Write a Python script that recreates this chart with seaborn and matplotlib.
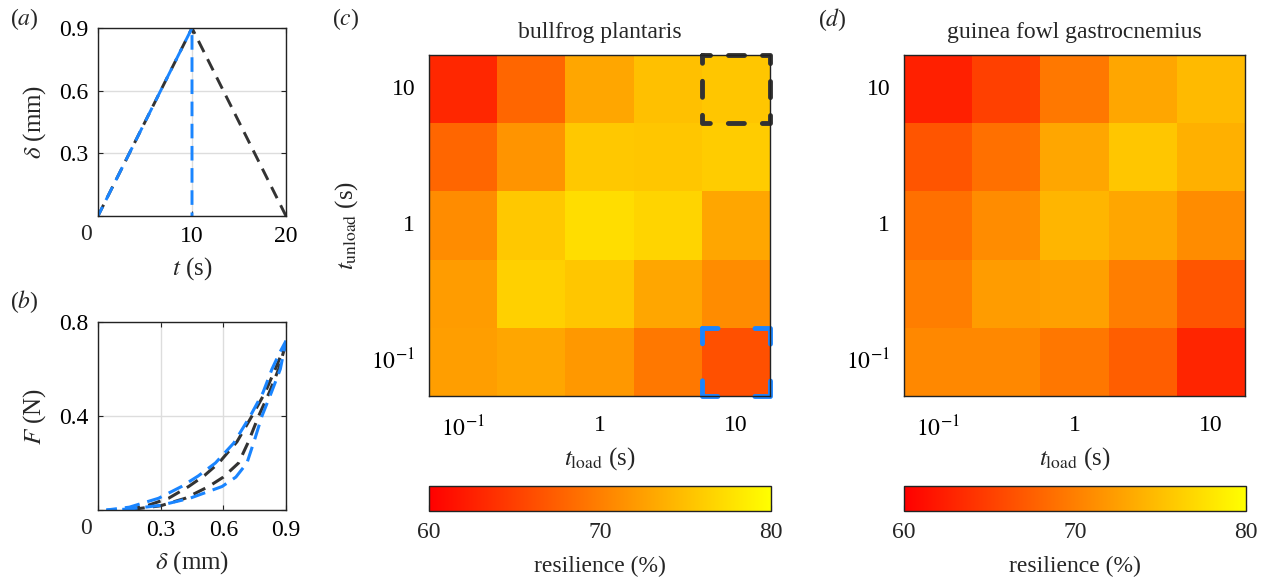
import numpy as np
import pandas as pd
import matplotlib
matplotlib.use("Agg")
import matplotlib.pyplot as plt
import seaborn as sns
from matplotlib.patches import Rectangle

sns.set_style("ticks")
plt.rcParams['font.family'] = ['Liberation Serif', 'DejaVu Serif']
plt.rcParams['mathtext.fontset'] = 'stix'
plt.rcParams['font.size'] = 17

# panel (a): displacement protocol
t_ramp = [0, 10, 20]
d_ramp = [0, 0.9, 0]
t_fast = [0, 10, 10]
d_fast = [0, 0.9, 0]

# panel (b): force-displacement loops (loading branch, unloading branch)
bk_load_d = [0.14, 0.24, 0.338, 0.434, 0.51, 0.578, 0.665, 0.737, 0.80, 0.849, 0.9]
bk_load_f = [0.0, 0.02, 0.05, 0.10, 0.147, 0.20, 0.29, 0.40, 0.50, 0.60, 0.71]
bk_unl_d = [0.9, 0.865, 0.82, 0.769, 0.72, 0.673, 0.60, 0.53, 0.418, 0.30, 0.14]
bk_unl_f = [0.71, 0.60, 0.50, 0.40, 0.29, 0.20, 0.14, 0.10, 0.05, 0.018, 0.0]
bl_load_d = [0.04, 0.15, 0.29, 0.40, 0.48, 0.562, 0.65, 0.729, 0.79, 0.833, 0.87, 0.9]
bl_load_f = [0.0, 0.012, 0.05, 0.10, 0.145, 0.20, 0.285, 0.40, 0.50, 0.60, 0.67, 0.72]
bl_unl_d = [0.9, 0.873, 0.83, 0.785, 0.75, 0.713, 0.66, 0.594, 0.44, 0.30, 0.15, 0.04]
bl_unl_f = [0.72, 0.60, 0.50, 0.40, 0.30, 0.20, 0.14, 0.10, 0.05, 0.02, 0.004, 0.0]

# panels (c), (d): resilience grids, rows t_unload = 10 ... 0.1, cols t_load = 0.1 ... 10
t_load = ["0.1", "0.316", "1", "3.16", "10"]
t_unload = ["10", "3.16", "1", "0.316", "0.1"]
bullfrog = [
    [63.1, 68.0, 73.0, 75.0, 75.5],
    [68.0, 71.6, 75.7, 75.5, 76.0],
    [71.0, 75.7, 77.3, 76.6, 73.0],
    [72.2, 76.3, 75.5, 73.0, 71.0],
    [72.4, 73.0, 71.9, 69.4, 66.3],
]
guinea = [
    [62.5, 65.0, 69.4, 73.0, 74.6],
    [66.7, 68.8, 73.0, 75.5, 73.8],
    [68.8, 71.0, 74.2, 73.0, 71.0],
    [69.9, 72.2, 72.5, 69.9, 66.7],
    [70.7, 70.7, 69.3, 67.4, 62.9],
]
log_ticks = ["$10^{-1}$", "1", "10"]

blue = "#1a85ff"
dark = "#333333"
dash = (0, (4.3, 2.7))
dash_blue = (1.5, (5.0, 2.6))

fig = plt.figure(figsize=(12.66, 5.82), dpi=100)
ax_a = fig.add_axes([0.0774, 0.6289, 0.1485, 0.323])
ax_b = fig.add_axes([0.0774, 0.1237, 0.1485, 0.323])
ax_c = fig.add_axes([0.3389, 0.3196, 0.2694, 0.5859])
ax_d = fig.add_axes([0.7141, 0.3196, 0.2694, 0.5859])
cax_c = fig.add_axes([0.3389, 0.122, 0.2702, 0.043])
cax_d = fig.add_axes([0.7141, 0.122, 0.2702, 0.043])


def box_axes(ax, pad=7):
    for s in ax.spines.values():
        s.set_visible(True)
        s.set_color("#222222")
        s.set_linewidth(1.0)
    ax.tick_params(direction="in", top=True, right=True, length=3.5, width=0.8,
                   labelsize=17, colors="#222222", labelcolor="black", pad=pad)


# (a)
sns.lineplot(x=t_ramp, y=d_ramp, ax=ax_a, color=dark, lw=2.1, sort=False,
             estimator=None, linestyle=dash)
sns.lineplot(x=t_fast, y=d_fast, ax=ax_a, color=blue, lw=2.1, sort=False,
             estimator=None, linestyle=dash_blue)
ax_a.set_xlim(0, 20)
ax_a.set_ylim(0, 0.9)
ax_a.set_xticks([0, 10, 20])
ax_a.set_xticklabels(["", "10", "20"])
ax_a.set_yticks([0, 0.3, 0.6, 0.9])
ax_a.set_yticklabels(["", "0.3", "0.6", "0.9"])
ax_a.grid(True, color="#dddddd", lw=1)
ax_a.set_axisbelow(True)
box_axes(ax_a)
ax_a.set_xlabel("$t$ (s)", fontsize=18, labelpad=6)
ax_a.set_ylabel(r"$\delta$ (mm)", fontsize=18, labelpad=8)
ax_a.text(-0.065, -0.045, "0", transform=ax_a.transAxes, ha="center", va="top", fontsize=17)

# (b)
for xs, ys, col, ls in [(bk_load_d, bk_load_f, dark, dash),
                        (bk_unl_d, bk_unl_f, dark, dash),
                        (bl_load_d, bl_load_f, blue, dash_blue),
                        (bl_unl_d, bl_unl_f, blue, dash_blue)]:
    sns.lineplot(x=xs, y=ys, ax=ax_b, color=col, lw=2.2, sort=False,
                 estimator=None, linestyle=ls)
ax_b.set_xlim(0, 0.9)
ax_b.set_ylim(0, 0.8)
ax_b.set_xticks([0, 0.3, 0.6, 0.9])
ax_b.set_xticklabels(["", "0.3", "0.6", "0.9"])
ax_b.set_yticks([0, 0.4, 0.8])
ax_b.set_yticklabels(["", "0.4", "0.8"])
ax_b.grid(True, color="#dddddd", lw=1)
ax_b.set_axisbelow(True)
box_axes(ax_b)
ax_b.set_xlabel(r"$\delta$ (mm)", fontsize=18, labelpad=6)
ax_b.set_ylabel("$F$ (N)", fontsize=18, labelpad=8)
ax_b.text(-0.065, -0.045, "0", transform=ax_b.transAxes, ha="center", va="top", fontsize=17)

# (c), (d)
for ax, cax, grid, title in [(ax_c, cax_c, bullfrog, "bullfrog plantaris"),
                             (ax_d, cax_d, guinea, "guinea fowl gastrocnemius")]:
    df = pd.DataFrame(grid, index=t_unload, columns=t_load)
    sns.heatmap(df, ax=ax, cmap="autumn", vmin=60, vmax=80, cbar_ax=cax,
                cbar_kws={"orientation": "horizontal", "ticks": [60, 70, 80]})
    ax.set_xticks([0.5, 2.5, 4.5])
    ax.set_xticklabels(log_ticks, rotation=0)
    ax.set_yticks([0.5, 2.5, 4.5])
    ax.set_yticklabels(log_ticks[::-1], rotation=0)
    box_axes(ax, pad=10)
    ax.tick_params(axis="x", pad=14)
    ax.set_xlabel(r"$t_{\rm load}$ (s)", fontsize=18, labelpad=3)
    ax.set_title(title, fontsize=17, pad=12)
    cb = ax.collections[0].colorbar
    cb.outline.set_visible(True)
    cb.outline.set_linewidth(1.0)
    cb.outline.set_edgecolor("#222222")
    cax.tick_params(direction="in", length=4, labelsize=17, pad=8)
    cax.set_xlabel("resilience (%)", fontsize=17, labelpad=9)

ax_c.set_ylabel(r"$t_{\rm unload}$ (s)", fontsize=18, labelpad=8)
ax_d.set_ylabel("")

# highlighted cells
ax_c.add_patch(Rectangle((4, 0), 1, 1, fill=False, ec=dark, lw=3.5, capstyle="round",
                         joinstyle="round", linestyle=(1.65, (3.3, 3.7)), clip_on=False))
ax_c.add_patch(Rectangle((4, 4), 1, 1, fill=False, ec=blue, lw=3.5, capstyle="round",
                         joinstyle="round", linestyle=(3.2, (6.4, 7.6)), clip_on=False))

fig.text(0.008, 0.99, "($a$)", fontsize=17, va="top")
fig.text(0.008, 0.505, "($b$)", fontsize=17, va="top")
fig.text(0.262, 0.99, "($c$)", fontsize=17, va="top")
fig.text(0.646, 0.99, "($d$)", fontsize=17, va="top")

fig.savefig("out.png", dpi=100)
